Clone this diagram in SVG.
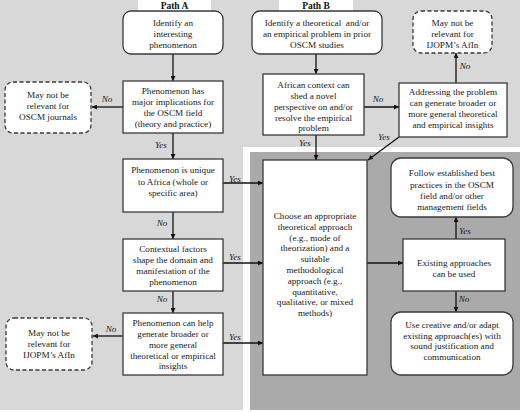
<svg xmlns="http://www.w3.org/2000/svg" width="520" height="412" viewBox="0 0 520 412">
<defs>
<marker id="ah" viewBox="0 0 10 10" refX="10" refY="5" markerWidth="5" markerHeight="5" orient="auto" markerUnits="userSpaceOnUse">
<path d="M0,0 L10,5 L0,10 Z" fill="#111"/>
</marker>
<style>
.box{fill:#fff;stroke:#3a3a3a;stroke-width:1.3}
.dash{fill:#fff;stroke:#3a3a3a;stroke-width:1.3;stroke-dasharray:4 2.5}
.t{font-family:"Liberation Serif","Times New Roman",serif;font-size:9.2px;fill:#1a1a1a;text-anchor:middle}
.l{font-family:"Liberation Serif","Times New Roman",serif;font-size:9.2px;font-style:italic;fill:#1a1a1a;text-anchor:middle}
.h{font-family:"Liberation Serif","Times New Roman",serif;font-size:9.5px;font-weight:bold;fill:#111;text-anchor:middle}
.c{stroke:#111;stroke-width:1.3;fill:none;marker-end:url(#ah)}
.pre{white-space:pre}
</style>
</defs>
<rect x="0" y="0" width="520" height="412" fill="#fff"/>
<rect x="0" y="0" width="520" height="410" fill="#d8d8d8"/>
<rect x="243" y="147" width="277" height="263" fill="#fff"/>
<rect x="250" y="152" width="270" height="258" fill="#aaaaaa"/>
<g id="tabA"><rect x="138" y="0" width="73" height="12" fill="#fff"/><text class="h" x="174.5" y="9">Path A</text></g>
<g id="tabB"><rect x="279" y="0" width="74" height="12" fill="#fff"/><text class="h" x="316" y="9">Path B</text></g>

<g id="connectors">
<line class="c" x1="173" y1="54" x2="173" y2="81"/>
<line class="c" x1="123" y1="107" x2="92" y2="107"/>
<line class="c" x1="173" y1="133" x2="173" y2="159"/>
<line class="c" x1="223" y1="183" x2="263" y2="183"/>
<line class="c" x1="173" y1="212" x2="173" y2="239"/>
<line class="c" x1="223" y1="263" x2="263" y2="263"/>
<line class="c" x1="173" y1="291" x2="173" y2="313"/>
<line class="c" x1="123" y1="336" x2="93" y2="336"/>
<line class="c" x1="223" y1="343" x2="263" y2="343"/>
<line class="c" x1="316" y1="54" x2="316" y2="74"/>
<line class="c" x1="364" y1="107" x2="399" y2="107"/>
<line class="c" x1="316" y1="135" x2="316" y2="160"/>
<line class="c" x1="399" y1="137" x2="368" y2="160"/>
<line class="c" x1="456" y1="83" x2="456" y2="53"/>
<line class="c" x1="367" y1="263" x2="403" y2="263"/>
<line class="c" x1="456" y1="239" x2="456" y2="217"/>
<line class="c" x1="456" y1="291" x2="456" y2="312"/>
<text class="l" x="107" y="102">No</text>
<text class="l" x="161" y="148">Yes</text>
<text class="l" x="235" y="182">Yes</text>
<text class="l" x="162" y="226">No</text>
<text class="l" x="235" y="260">Yes</text>
<text class="l" x="162" y="302">No</text>
<text class="l" x="111" y="332">No</text>
<text class="l" x="235" y="340">Yes</text>
<text class="l" x="305" y="146">Yes</text>
<text class="l" x="378" y="102">No</text>
<text class="l" x="384" y="140">Yes</text>
<text class="l" x="465" y="69">No</text>
<text class="l" x="465" y="234">Yes</text>
<text class="l" x="464" y="302">No</text>
</g>

<g id="A1"><rect class="box" x="123" y="11" width="100" height="43" rx="8"/>
<text class="t" x="173" y="26">Identify an</text><text class="t" x="173" y="37">interesting</text><text class="t" x="173" y="48">phenomenon</text></g>
<g id="A2"><rect class="box" x="123" y="81" width="100" height="52"/>
<text class="t" x="173" y="94">Phenomenon has</text><text class="t" x="173" y="105">major implications for</text><text class="t" x="173" y="116">the OSCM field</text><text class="t" x="173" y="127">(theory and practice)</text></g>
<g id="A3"><rect class="box" x="123" y="159" width="100" height="53"/>
<text class="t" x="173" y="173">Phenomenon is unique</text><text class="t" x="173" y="184.5">to Africa (whole or</text><text class="t" x="173" y="196">specific area)</text></g>
<g id="A4"><rect class="box" x="123" y="239" width="100" height="52"/>
<text class="t" x="173" y="252">Contextual factors</text><text class="t" x="173" y="263">shape the domain and</text><text class="t" x="173" y="274">manifestation of the</text><text class="t" x="173" y="285">phenomenon</text></g>
<g id="A5"><rect class="box" x="123" y="313" width="100" height="62"/>
<text class="t" x="173" y="326">Phenomenon can help</text><text class="t" x="173" y="337">generate broader or</text><text class="t" x="173" y="348">more general</text><text class="t" x="173" y="358.5">theoretical or empirical</text><text class="t" x="173" y="369">insights</text></g>
<g id="NA1"><rect class="dash" x="5" y="82" width="86" height="51" rx="8"/>
<text class="t" x="48" y="98">May not be</text><text class="t" x="48" y="109">relevant for</text><text class="t" x="48" y="120">OSCM journals</text></g>
<g id="NA2"><rect class="dash" x="6" y="318" width="86" height="52" rx="8"/>
<text class="t" x="49" y="336">May not be</text><text class="t" x="49" y="347">relevant for</text><text class="t" x="49" y="357.5">IJOPM’s AfIn</text></g>

<g id="B1"><rect class="box" x="252" y="11" width="130" height="43" rx="8"/>
<text class="t pre" x="317" y="26">Identify a theoretical  and/or</text><text class="t" x="317" y="37">an empirical problem in prior</text><text class="t" x="317" y="47.5">OSCM studies</text></g>
<g id="B2"><rect class="box" x="263" y="74" width="101" height="61"/>
<text class="t" x="313.5" y="88">African context can</text><text class="t" x="313.5" y="99">shed a novel</text><text class="t" x="313.5" y="110">perspective on and/or</text><text class="t" x="313.5" y="120.5">resolve the empirical</text><text class="t" x="313.5" y="131">problem</text></g>
<g id="B3"><rect class="box" x="399" y="83" width="108" height="54"/>
<text class="t" x="453" y="95">Addressing the problem</text><text class="t" x="453" y="106">can generate broader or</text><text class="t" x="453" y="117">more general theoretical</text><text class="t" x="453" y="128">and empirical insights</text></g>
<g id="NB"><rect class="dash" x="413" y="11" width="79" height="42" rx="8"/>
<text class="t" x="452.5" y="26">May not be</text><text class="t" x="452.5" y="37">relevant for</text><text class="t" x="452.5" y="48">IJOPM’s AfIn</text></g>

<g id="C"><rect class="box" x="263" y="160" width="104" height="215"/>
<text class="t" x="315" y="219">Choose an appropriate</text>
<text class="t" x="315" y="229.8">theoretical approach</text>
<text class="t" x="315" y="240.6">(e.g., mode of</text>
<text class="t" x="315" y="251.4">theorization) and a</text>
<text class="t" x="315" y="262.2">suitable</text>
<text class="t" x="315" y="273">methodological</text>
<text class="t" x="315" y="283.8">approach (e.g.,</text>
<text class="t" x="315" y="294.6">quantitative,</text>
<text class="t" x="315" y="305.4">qualitative, or mixed</text>
<text class="t" x="315" y="316.2">methods)</text></g>
<g id="R1"><rect class="box" x="391" y="158" width="122" height="59" rx="10"/>
<text class="t" x="452" y="176">Follow established best</text><text class="t" x="452" y="187.5">practices in the OSCM</text><text class="t" x="452" y="198.5">field and/or other</text><text class="t" x="452" y="209.5">management fields</text></g>
<g id="R2"><rect class="box" x="403" y="239" width="102" height="52"/>
<text class="t" x="454" y="266">Existing approaches</text><text class="t" x="454" y="277">can be used</text></g>
<g id="R3"><rect class="box" x="391" y="312" width="122" height="63" rx="10"/>
<text class="t" x="452" y="328">Use creative and/or adapt</text><text class="t" x="452" y="338.5">existing approach(es) with</text><text class="t" x="452" y="349">sound justification and</text><text class="t" x="452" y="360">communication</text></g>
</svg>
